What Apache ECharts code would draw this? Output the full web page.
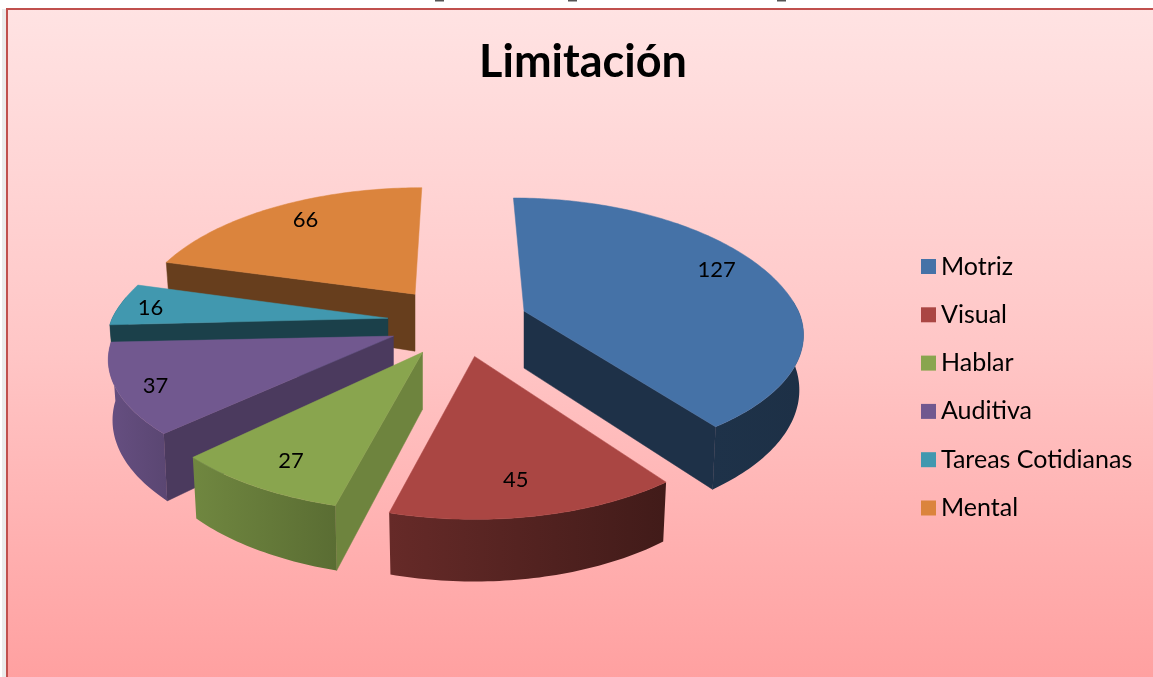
<!DOCTYPE html>
<html><head><meta charset="utf-8">
<style>html,body{margin:0;padding:0;background:#fff}#c{width:1153px;height:677px}</style>
<script src="https://cdn.jsdelivr.net/npm/echarts@6/dist/echarts.min.js"></script>
</head><body><div id="c"></div>
<script>
// Data
const categories = ['Motriz','Visual','Hablar','Auditiva','Tareas Cotidianas','Mental'];
const values = [127,45,27,37,16,66];
const chartTitle = 'Limitación';
// Colours
const topColors = ['#4572A7','#AA4643','#89A54E','#71588F','#4198AF','#DB843D'];
const outerShade = [[0.44,0.42],[0.60,0.38],[0.82,0.66],[0.90,0.80],[0.42,0.42],[0.47,0.47]];
const radialShade = [0.43,0.45,0.80,0.66,0.42,0.47];
// Per-slice fit of the picture's 3D view
const xScale = [0.98,0.98,1,1,0.985,0.975];
const frontSquash = [0.92,1,0.98,0.91,1,1];
const backSquash = [1.02,1,1,1,1,0.96];
const depthScale = [1,0.95,1,1.1,1,1];
const apexShiftX = [0,4,0,0,0,0];
const labelRadius = [0.76,0.80,0.84,0.85,0.85,0.78];
const labelNudge = [[-1,-11],[-8,2],[5,-3],[-5,1],[-5,2],[9,-1]];
// Geometry of the projected pie
const G = {cx:457.5, cy:322, ex:70, ey:35, R:280, K:132, p:0.19, h0:57, h:53, lean:0.985};
const total = values.reduce((a,b)=>a+b,0);
const rad = d => d*Math.PI/180;
function shade(hex,f){
  const n=parseInt(hex.slice(1),16);
  return 'rgb('+[(n>>16)&255,(n>>8)&255,n&255].map(c=>Math.round(c*f)).join(',')+')';
}
function sliceOf(i){
  const start = values.slice(0,i).reduce((a,b)=>a+b,0)/total*360;
  const end = start + values[i]/total*360;
  return {start,end,mid:(start+end)/2};
}
function proj(th,r){
  const u=Math.sin(rad(th))*r, v=-Math.cos(rad(th))*r, s=1/(1-G.p*v);
  return {x:G.R*u*s, y:G.K*v*s, s};
}
function renderSlice(i){
  const sl=sliceOf(i), color=topColors[i];
  const ax=G.cx+G.ex*Math.sin(rad(sl.mid))+apexShiftX[i], ay=G.cy-G.ey*Math.cos(rad(sl.mid));
  const local=(th,r)=>{
    const p=proj(th,r);
    const back=p.s<1;
    return {x:p.x*xScale[i]+(back?(ax-G.cx)*(p.s-1):0),
            y:p.y*(back?backSquash[i]:frontSquash[i]), s:p.s};
  };
  const topPt=(th,r)=>{const p=local(th,r);return [ax+p.x,ay+p.y];};
  const botPt=(th,r)=>{const p=local(th,r);return [ax+p.x*G.lean,ay+p.y+(r>0?G.h*p.s*depthScale[i]:G.h0)];};
  const arc=[];
  const n=Math.max(8,Math.ceil(sl.end-sl.start));
  for(let k=0;k<=n;k++) arc.push(sl.start+(sl.end-sl.start)*k/n);
  const children=[];
  const add=(pts,fill,z)=>children.push({type:'polygon',z2:z,shape:{points:pts},
    style:{fill:fill,stroke:typeof fill==='string'?fill:null,lineWidth:typeof fill==='string'?0.5:0}});
  const wall=(th)=>[topPt(th,0),topPt(th,1),botPt(th,1),botPt(th,0)];
  if(Math.sin(rad(sl.start))<-0.01) add(wall(sl.start),shade(color,radialShade[i]),1);
  if(Math.sin(rad(sl.end))>0.01) add(wall(sl.end),shade(color,radialShade[i]),1);
  const vis=arc.filter(t=>t>=85&&t<=280);
  if(vis.length>1){
    const pts=vis.map(t=>topPt(t,1)).concat(vis.slice().reverse().map(t=>botPt(t,1)));
    const grad=new echarts.graphic.LinearGradient(0,0,1,0,[
      {offset:0,color:shade(color,outerShade[i][0])},{offset:1,color:shade(color,outerShade[i][1])}]);
    add(pts,grad,2);
  }
  add([topPt(0,0)].concat(arc.map(t=>topPt(t,1))),color,3);
  const lp=proj(sl.mid,labelRadius[i]);
  children.push({type:'text',z2:5,x:ax+lp.x+labelNudge[i][0],y:ay+lp.y+labelNudge[i][1],
    style:{text:String(values[i]),font:'22px Lato',fill:'#000',align:'center',verticalAlign:'middle'}});
  return {type:'group',children};
}
const series=categories.map((name,i)=>({
  type:'custom',name,coordinateSystem:'none',
  z:Math.round(100-100*Math.cos(rad(sliceOf(i).mid))),
  itemStyle:{color:topColors[i]},
  data:[[values[i]]],
  silent:true,
  renderItem:()=>renderSlice(i)
}));
const stub=x=>({type:'rect',z:-8,silent:true,shape:{x,y:0,width:9,height:1.5},style:{fill:'#555'}});
const chart=echarts.init(document.getElementById('c'),null,{renderer:'canvas'});
chart.setOption({
  animation:false,
  title:{text:chartTitle,left:578,top:35,textAlign:'center',
    textStyle:{fontFamily:'Lato',fontWeight:'bold',fontSize:45,color:'#000'}},
  legend:{orient:'vertical',left:921,top:254,padding:0,itemWidth:15,itemHeight:15,itemGap:23.3,
    icon:'rect',selectedMode:false,data:categories,
    textStyle:{fontFamily:'Lato',fontSize:25,lineHeight:24,color:'#000'}},
  graphic:[{type:'rect',z:-10,silent:true,shape:{x:2,y:9,width:1151,height:668},style:{fill:'#ebebeb'}},
    {type:'rect',z:-9,silent:true,shape:{x:7,y:9,width:1160,height:680},
    style:{stroke:'#c0504d',lineWidth:2,fill:new echarts.graphic.LinearGradient(0,0,0,1,[
      {offset:0,color:'#ffe3e3'},{offset:0.5,color:'#ffc6c6'},{offset:1,color:'#ff9f9f'}])}},
    stub(435),stub(568),stub(777)],
  series
});
</script></body></html>
